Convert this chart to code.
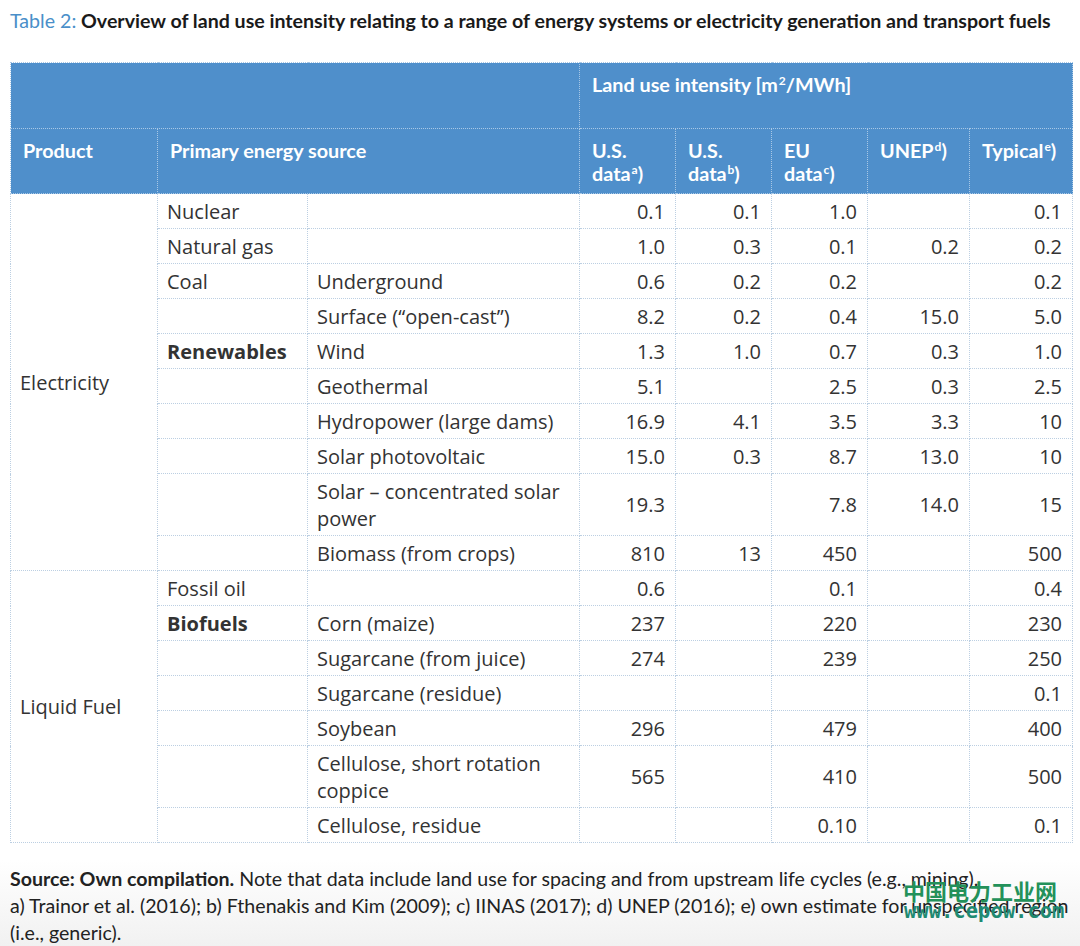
import React from 'react';

// Table contents
const products = ['Electricity', 'Liquid Fuel'];
const productSpans = [10, 7];

const sources = ['Nuclear', 'Natural gas', 'Coal', '', 'Renewables', '', '', '', '', '', 'Fossil oil', 'Biofuels', '', '', '', '', ''];
const boldSources = ['Renewables', 'Biofuels'];
const subSources = [
  '', '', 'Underground', 'Surface (\u201copen-cast\u201d)', 'Wind', 'Geothermal', 'Hydropower (large dams)',
  'Solar photovoltaic', 'Solar \u2013 concentrated solar power', 'Biomass (from crops)', '', 'Corn (maize)',
  'Sugarcane (from juice)', 'Sugarcane (residue)', 'Soybean', 'Cellulose, short rotation coppice', 'Cellulose, residue',
];

const usDataA = ['0.1', '1.0', '0.6', '8.2', '1.3', '5.1', '16.9', '15.0', '19.3', '810', '0.6', '237', '274', '', '296', '565', ''];
const usDataB = ['0.1', '0.3', '0.2', '0.2', '1.0', '', '4.1', '0.3', '', '13', '', '', '', '', '', '', ''];
const euData = ['1.0', '0.1', '0.2', '0.4', '0.7', '2.5', '3.5', '8.7', '7.8', '450', '0.1', '220', '239', '', '479', '410', '0.10'];
const unepData = ['', '0.2', '', '15.0', '0.3', '0.3', '3.3', '13.0', '14.0', '', '', '', '', '', '', '', ''];
const typical = ['0.1', '0.2', '0.2', '5.0', '1.0', '2.5', '10', '10', '15', '500', '0.4', '230', '250', '0.1', '400', '500', '0.1'];

const doubleRows = [8, 15];

const valueColumns = [usDataA, usDataB, euData, unepData, typical];
const colWidths = [147, 150, 272, 96, 96, 96, 102, 103];

const HEADER_BG = '#4f8fcb';
const HEADER_LINE = '1px dotted #a9c8e6';
const BODY_LINE = '1px dotted #bccfe2';
const BODY_FONT = '"Open Sans", sans-serif';
const HEAD_FONT = 'Lato, sans-serif';

const headCell: React.CSSProperties = {
  background: HEADER_BG,
  color: '#fff',
  fontFamily: HEAD_FONT,
  fontWeight: 700,
  fontSize: 19.8,
  lineHeight: '23px',
  verticalAlign: 'top',
  textAlign: 'left',
  padding: '10px 8px 0 12px',
  border: HEADER_LINE,
  boxSizing: 'border-box',
};

const bodyCell: React.CSSProperties = {
  fontFamily: BODY_FONT,
  fontSize: 20,
  color: '#333',
  lineHeight: '27px',
  padding: '0 9px',
  border: BODY_LINE,
  verticalAlign: 'middle',
  boxSizing: 'border-box',
};

const sup = (t: string) => (
  <span style={{ fontSize: 12, lineHeight: 0, position: 'relative', top: -7, marginLeft: 1 }}>{t}</span>
);

export default function App() {
  const productStarts = productSpans.map((_, i) => productSpans.slice(0, i).reduce((a, b) => a + b, 0));

  return (
    <div style={{ width: 1080, height: 946, position: 'relative', background: 'linear-gradient(to bottom, #fff 0px, #fff 860px, #f1f1f1 946px)' }}>
      <style>{'body{margin:0}'}</style>
      <div style={{ position: 'absolute', left: 10, top: 9, fontFamily: HEAD_FONT, fontWeight: 700, fontSize: 19.6, color: '#1a1a1a', whiteSpace: 'nowrap' }}>
        <span style={{ color: '#4a8fc9', fontWeight: 400 }}>Table 2:</span> Overview of land use intensity relating to a range of energy systems or electricity generation and transport fuels
      </div>

      <table style={{ position: 'absolute', left: 10, top: 62, borderCollapse: 'collapse', tableLayout: 'fixed', width: 1062 }}>
        <colgroup>
          {colWidths.map((w, i) => <col key={i} style={{ width: w }} />)}
        </colgroup>
        <thead>
          <tr style={{ height: 66 }}>
            <th colSpan={3} style={headCell}></th>
            <th colSpan={5} style={headCell}>Land use intensity [m{sup('2')}/MWh]</th>
          </tr>
          <tr style={{ height: 65 }}>
            <th style={headCell}>Product</th>
            <th colSpan={2} style={headCell}>Primary energy source</th>
            <th style={headCell}>U.S.<br />data{sup('a')})</th>
            <th style={headCell}>U.S.<br />data{sup('b')})</th>
            <th style={headCell}>EU<br />data{sup('c')})</th>
            <th style={headCell}>UNEP{sup('d')})</th>
            <th style={headCell}>Typical{sup('e')})</th>
          </tr>
        </thead>
        <tbody>
          {subSources.map((sub, r) => {
            const pIdx = productStarts.indexOf(r);
            return (
              <tr key={r} style={{ height: doubleRows.includes(r) ? 62 : 35 }}>
                {pIdx >= 0 && (
                  <td rowSpan={productSpans[pIdx]} style={{ ...bodyCell, paddingLeft: 9 }}>{products[pIdx]}</td>
                )}
                <td style={{ ...bodyCell, fontWeight: boldSources.includes(sources[r]) ? 700 : 400 }}>{sources[r]}</td>
                <td style={bodyCell}>{sub}</td>
                {valueColumns.map((col, c) => (
                  <td key={c} style={{ ...bodyCell, textAlign: 'right', paddingRight: 10 }}>{col[r]}</td>
                ))}
              </tr>
            );
          })}
        </tbody>
      </table>

      <div style={{ position: 'absolute', left: 10, top: 865, width: 1075, fontFamily: HEAD_FONT, fontSize: 19.6, lineHeight: '27px', color: '#222', whiteSpace: 'nowrap' }}>
        <b>Source: Own compilation.</b> Note that data include land use for spacing and from upstream life cycles (e.g., mining).<br />
        a) Trainor et al. (2016); b) Fthenakis and Kim (2009); c) IINAS (2017); d) UNEP (2016); e) own estimate for unspecified region<br />
        (i.e., generic).
      </div>

      <div style={{ position: 'absolute', left: 903, top: 874, fontFamily: '"Noto Sans CJK SC", sans-serif', fontWeight: 700, fontSize: 22, color: '#23915a' }}>
        中国电力工业网
      </div>
      <div style={{ position: 'absolute', left: 904, top: 899, fontFamily: '"DejaVu Sans Mono", monospace', fontWeight: 700, fontSize: 20.5, color: '#1f8a72' }}>
        www.cepow.com
      </div>
    </div>
  );
}
